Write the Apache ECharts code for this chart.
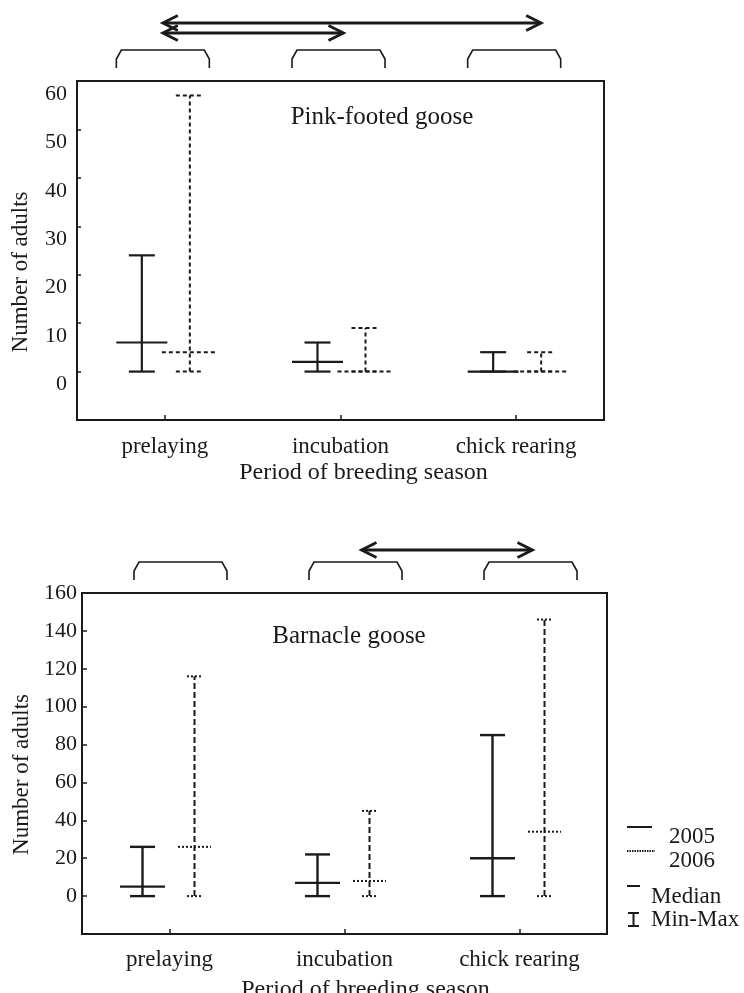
<!DOCTYPE html>
<html><head><meta charset="utf-8">
<script src="https://cdn.jsdelivr.net/npm/echarts@6/dist/echarts.min.js"></script>
<style>html,body{margin:0;padding:0;background:#fff}#c{width:744px;height:993px}</style>
</head><body><div id="c"></div>
<script>
// ---------- data ----------
const categories = ['prelaying', 'incubation', 'chick rearing'];

// Pink-footed goose (top panel)
const pinkMin2005 = [0, 0, 0];
const pinkMedian2005 = [6, 2, 0];
const pinkMax2005 = [24, 6, 4];
const pinkMin2006 = [0, 0, 0];
const pinkMedian2006 = [4, 0, 0];
const pinkMax2006 = [57, 9, 4];

// Barnacle goose (bottom panel)
const barnMin2005 = [0, 0, 0];
const barnMedian2005 = [5, 7, 20];
const barnMax2005 = [26, 22, 85];
const barnMin2006 = [0, 0, 0];
const barnMedian2006 = [26, 8, 34];
const barnMax2006 = [116, 45, 146];

// significant differences between periods (category index pairs)
const pinkComparisons = [[0, 2], [0, 1]];
const barnComparisons = [[1, 2]];

const pinkTicks = [-10, 0, 10, 20, 30, 40, 50, 60];
const barnTicks = [-20, 0, 20, 40, 60, 80, 100, 120, 140, 160];

// ---------- styles ----------
const INK = '#1a1a1a';
const FONT = 'Liberation Serif';

function rows(mins, meds, maxs) {
  return categories.map((c, i) => [i, mins[i], meds[i], maxs[i]]);
}

function errorBar(st) {
  return function (params, api) {
    const c = api.value(0);
    const pMin = api.coord([c, api.value(1)]);
    const pMed = api.coord([c, api.value(2)]);
    const pMax = api.coord([c, api.value(3)]);
    const x = pMin[0] + st.offset;
    const vs = { stroke: INK, lineWidth: st.width, lineDash: st.dash, fill: null };
    const cs = { stroke: INK, lineWidth: st.width, lineDash: st.capDash, fill: null };
    const line = (x1, y1, x2, y2, s) => ({ type: 'line', shape: { x1, y1, x2, y2 }, style: s });
    return {
      type: 'group',
      children: [
        line(x, pMin[1], x, pMax[1], vs),
        line(x - st.cap / 2, pMin[1], x + st.cap / 2, pMin[1], cs),
        line(x - st.cap / 2, pMax[1], x + st.cap / 2, pMax[1], cs),
        line(x - st.med / 2, pMed[1], x + st.med / 2, pMed[1], cs)
      ]
    };
  };
}

function bracketRenderer(st) {
  return function (params, api) {
    const cx = api.coord([api.value(0), 0])[0] + st.dx;
    const top = params.coordSys.y - 31;
    const bot = params.coordSys.y - 13;
    const hw = 46.5;
    return {
      type: 'polyline',
      shape: { points: [[cx - hw, bot], [cx - hw, top + 9], [cx - hw + 5, top], [cx + hw - 5, top], [cx + hw, top + 9], [cx + hw, bot]] },
      style: { stroke: INK, lineWidth: 1.6, fill: null }
    };
  };
}

function arrowRenderer(st) {
  return function (params, api) {
    const i = params.dataIndex;
    const n = st.nudge[i];
    const x1 = api.coord([api.value(0), 0])[0] + n[0];
    const x2 = api.coord([api.value(1), 0])[0] + n[1];
    const y = params.coordSys.y - st.rise[i];
    const s = { stroke: INK, lineWidth: 2.8, fill: null };
    return {
      type: 'group',
      children: [
        { type: 'line', shape: { x1: x1 + 1, y1: y, x2: x2 - 1, y2: y }, style: s },
        { type: 'polyline', shape: { points: [[x1 + 15, y - 7.5], [x1, y], [x1 + 15, y + 7.5]] }, style: s },
        { type: 'polyline', shape: { points: [[x2 - 15, y - 7.5], [x2, y], [x2 - 15, y + 7.5]] }, style: s }
      ]
    };
  };
}

const chart = echarts.init(document.getElementById('c'), null, { renderer: 'canvas' });

function xAxisCfg(gi, namePad, labelMargin, nameGap) {
  return {
    type: 'category', gridIndex: gi, data: categories,
    axisLine: { show: false, onZero: false },
    axisTick: { show: true, inside: true, length: 5, alignWithLabel: true, lineStyle: { color: INK, width: 1.5 } },
    axisLabel: { interval: 0, margin: labelMargin, fontFamily: FONT, fontSize: 23, color: INK },
    name: 'Period of breeding season', nameLocation: 'middle', nameGap: nameGap,
    nameTextStyle: { fontFamily: FONT, fontSize: 24, color: INK, padding: [0, 0, 0, namePad] },
    splitLine: { show: false }
  };
}

const option = {
  animation: false,
  backgroundColor: '#fff',
  grid: [
    { left: 77, top: 81, width: 527, height: 339, show: true, borderColor: INK, borderWidth: 2, backgroundColor: 'transparent', outerBoundsMode: 'none', containLabel: false },
    { left: 82, top: 593, width: 525, height: 341, show: true, borderColor: INK, borderWidth: 2, backgroundColor: 'transparent', outerBoundsMode: 'none', containLabel: false }
  ],
  xAxis: [xAxisCfg(0, 46, 15, 41), xAxisCfg(1, 42, 14, 44)],
  yAxis: [
    {
      type: 'value', gridIndex: 0, min: pinkTicks[0], max: pinkTicks[pinkTicks.length - 1], interval: 10,
      axisLine: { show: false, onZero: false }, splitLine: { show: false },
      axisTick: { show: true, inside: true, length: 4, lineStyle: { color: INK, width: 1.5 } },
      axisLabel: {
        margin: 10, fontFamily: FONT, fontSize: 22, color: INK, verticalAlign: 'top', lineHeight: 26,
        formatter: v => (v < 0 ? '' : String(v))
      },
      name: 'Number of adults', nameLocation: 'middle', nameGap: 45,
      nameTextStyle: { fontFamily: FONT, fontSize: 23, color: INK, padding: [0, 43, 0, 0] }
    },
    {
      type: 'value', gridIndex: 1, min: barnTicks[0], max: barnTicks[barnTicks.length - 1], interval: 20,
      axisLine: { show: false, onZero: false }, splitLine: { show: false },
      axisTick: { show: true, inside: true, length: 5, lineStyle: { color: INK, width: 1.5 } },
      axisLabel: {
        margin: 5, fontFamily: FONT, fontSize: 22, color: INK,
        formatter: v => (v < 0 ? '' : String(v))
      },
      name: 'Number of adults', nameLocation: 'middle', nameGap: 42,
      nameTextStyle: { fontFamily: FONT, fontSize: 23, color: INK, padding: [0, 22, 0, 0] }
    }
  ],
  series: [
    { type: 'custom', name: '2005', xAxisIndex: 0, yAxisIndex: 0, clip: false, encode: { x: 0, y: [1, 2, 3] },
      data: rows(pinkMin2005, pinkMedian2005, pinkMax2005),
      renderItem: errorBar({ offset: -23, width: 2.2, dash: null, capDash: null, cap: 26, med: 51 }) },
    { type: 'custom', name: '2006', xAxisIndex: 0, yAxisIndex: 0, clip: false, encode: { x: 0, y: [1, 2, 3] },
      data: rows(pinkMin2006, pinkMedian2006, pinkMax2006),
      renderItem: errorBar({ offset: 25, width: 2, dash: [4, 3], capDash: [4, 3], cap: 28, med: 56 }) },
    { type: 'custom', name: '2005', xAxisIndex: 1, yAxisIndex: 1, clip: false, encode: { x: 0, y: [1, 2, 3] },
      data: rows(barnMin2005, barnMedian2005, barnMax2005),
      renderItem: errorBar({ offset: -27, width: 2.4, dash: null, capDash: null, cap: 25, med: 45 }) },
    { type: 'custom', name: '2006', xAxisIndex: 1, yAxisIndex: 1, clip: false, encode: { x: 0, y: [1, 2, 3] },
      data: rows(barnMin2006, barnMedian2006, barnMax2006),
      renderItem: errorBar({ offset: 25, width: 2, dash: [6, 3], capDash: [2, 2], cap: 15, med: 33 }) },
    // period brackets
    { type: 'custom', xAxisIndex: 0, yAxisIndex: 0, clip: false, silent: true, encode: { x: 0, y: 1 },
      data: categories.map((c, i) => [i, 0]), renderItem: bracketRenderer({ dx: -2 }) },
    { type: 'custom', xAxisIndex: 1, yAxisIndex: 1, clip: false, silent: true, encode: { x: 0, y: 1 },
      data: categories.map((c, i) => [i, 0]), renderItem: bracketRenderer({ dx: 11 }) },
    // significance arrows
    { type: 'custom', xAxisIndex: 0, yAxisIndex: 0, clip: false, silent: true, encode: { x: [0, 1], y: 2 },
      data: pinkComparisons.map(p => [p[0], p[1], 0]),
      renderItem: arrowRenderer({ rise: [58, 48], nudge: [[-2, 25], [-2, 3]] }) },
    { type: 'custom', xAxisIndex: 1, yAxisIndex: 1, clip: false, silent: true, encode: { x: [0, 1], y: 2 },
      data: barnComparisons.map(p => [p[0], p[1], 0]),
      renderItem: arrowRenderer({ rise: [43], nudge: [[17, 13]] }) }
  ],
  graphic: [
    { type: 'text', x: 382, y: 117, style: { text: 'Pink-footed goose', font: '25px "Liberation Serif"', fill: INK, textAlign: 'center', textVerticalAlign: 'middle', verticalAlign: 'middle' } },
    { type: 'text', x: 349, y: 636, style: { text: 'Barnacle goose', font: '25px "Liberation Serif"', fill: INK, textAlign: 'center', textVerticalAlign: 'middle', verticalAlign: 'middle' } },
    // legend
    { type: 'line', shape: { x1: 627, y1: 827, x2: 652, y2: 827 }, style: { stroke: INK, lineWidth: 2 } },
    { type: 'text', x: 669, y: 837, style: { text: '2005', font: '23px "Liberation Serif"', fill: INK, textAlign: 'left', textVerticalAlign: 'middle', verticalAlign: 'middle' } },
    { type: 'line', shape: { x1: 627, y1: 851, x2: 655, y2: 851 }, style: { stroke: INK, lineWidth: 2, lineDash: [1.5, 1] } },
    { type: 'text', x: 669, y: 861, style: { text: '2006', font: '23px "Liberation Serif"', fill: INK, textAlign: 'left', textVerticalAlign: 'middle', verticalAlign: 'middle' } },
    { type: 'line', shape: { x1: 627, y1: 886, x2: 640, y2: 886 }, style: { stroke: INK, lineWidth: 2 } },
    { type: 'text', x: 651, y: 897, style: { text: 'Median', font: '23px "Liberation Serif"', fill: INK, textAlign: 'left', textVerticalAlign: 'middle', verticalAlign: 'middle' } },
    { type: 'line', shape: { x1: 633.5, y1: 913, x2: 633.5, y2: 926 }, style: { stroke: INK, lineWidth: 2 } },
    { type: 'line', shape: { x1: 628, y1: 913, x2: 639, y2: 913 }, style: { stroke: INK, lineWidth: 2 } },
    { type: 'line', shape: { x1: 628, y1: 926, x2: 639, y2: 926 }, style: { stroke: INK, lineWidth: 2 } },
    { type: 'text', x: 651, y: 920, style: { text: 'Min-Max', font: '23px "Liberation Serif"', fill: INK, textAlign: 'left', textVerticalAlign: 'middle', verticalAlign: 'middle' } }
  ]
};
chart.setOption(option);
</script>
</body></html>
